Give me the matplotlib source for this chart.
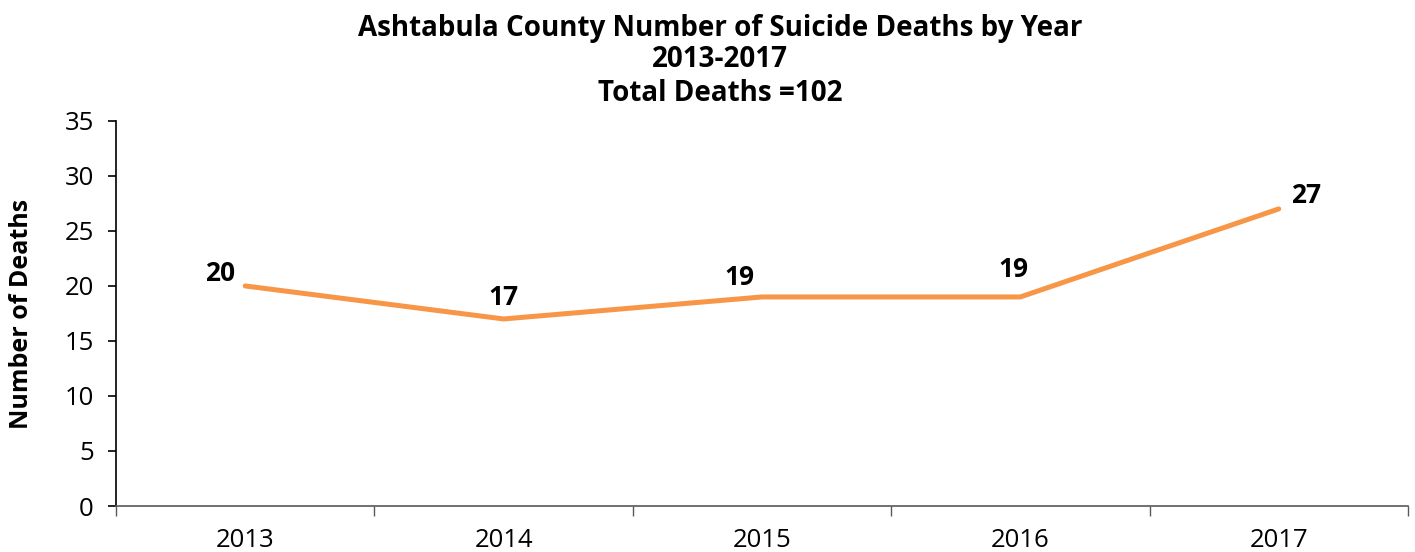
import matplotlib
matplotlib.use("Agg")
import matplotlib.pyplot as plt
import numpy as np

# ── Data ──────────────────────────────────────────────────────────────
years = ["2013", "2014", "2015", "2016", "2017"]
deaths = [20, 17, 19, 19, 27]
total_deaths = 102

# label offsets (points) for each data label
label_offsets = [(-7, -1), (0, 6), (-16, 4), (-5, 10), (9, 0)]
label_align = ["right", "center", "center", "center", "left"]

plt.rcParams["font.family"] = ["Open Sans", "DejaVu Sans"]

fig = plt.figure(figsize=(14.15, 5.52), dpi=100)
ax = fig.add_axes([0.082, 0.0833, 0.913, 0.6977])

x = np.arange(len(years))
ax.plot(x, deaths, color="#F79646", linewidth=3.6, solid_capstyle="round")

for xi, val, off, ha in zip(x, deaths, label_offsets, label_align):
    ax.annotate(str(val), (xi, val), xytext=off, textcoords="offset points",
                ha=ha, va="bottom", fontsize=19, fontweight="bold")

ax.set_xlim(-0.5, len(years) - 0.5)
ax.set_ylim(0, 35)
ax.set_yticks(range(0, 36, 5))
ax.tick_params(axis="y", labelsize=18.5, length=6, width=1.2, direction="out", pad=10)

# category labels centred, ticks on category boundaries
ax.set_xticks(x)
ax.set_xticklabels(years, fontsize=18.5)
ax.tick_params(axis="x", which="major", length=0, pad=16)
ax.set_xticks(np.arange(-0.5, len(years)), minor=True)
ax.tick_params(axis="x", which="minor", length=7, width=1, color="#595959")

for side in ["top", "right"]:
    ax.spines[side].set_visible(False)
ax.spines["left"].set_linewidth(1.2)
ax.spines["bottom"].set_color("#595959")
ax.spines["bottom"].set_linewidth(1.2)

ax.set_ylabel("Number of Deaths", fontsize=18, fontweight="bold", labelpad=22)

fig.text(0.509, 0.948, "Ashtabula County Number of Suicide Deaths by Year",
         ha="center", va="center", fontsize=20, fontweight="bold")
fig.text(0.509, 0.892, "2013-2017", ha="center", va="center",
         fontsize=20, fontweight="bold")
fig.text(0.509, 0.830, f"Total Deaths ={total_deaths}", ha="center",
         va="center", fontsize=20, fontweight="bold")

fig.savefig("out.png", dpi=100)
